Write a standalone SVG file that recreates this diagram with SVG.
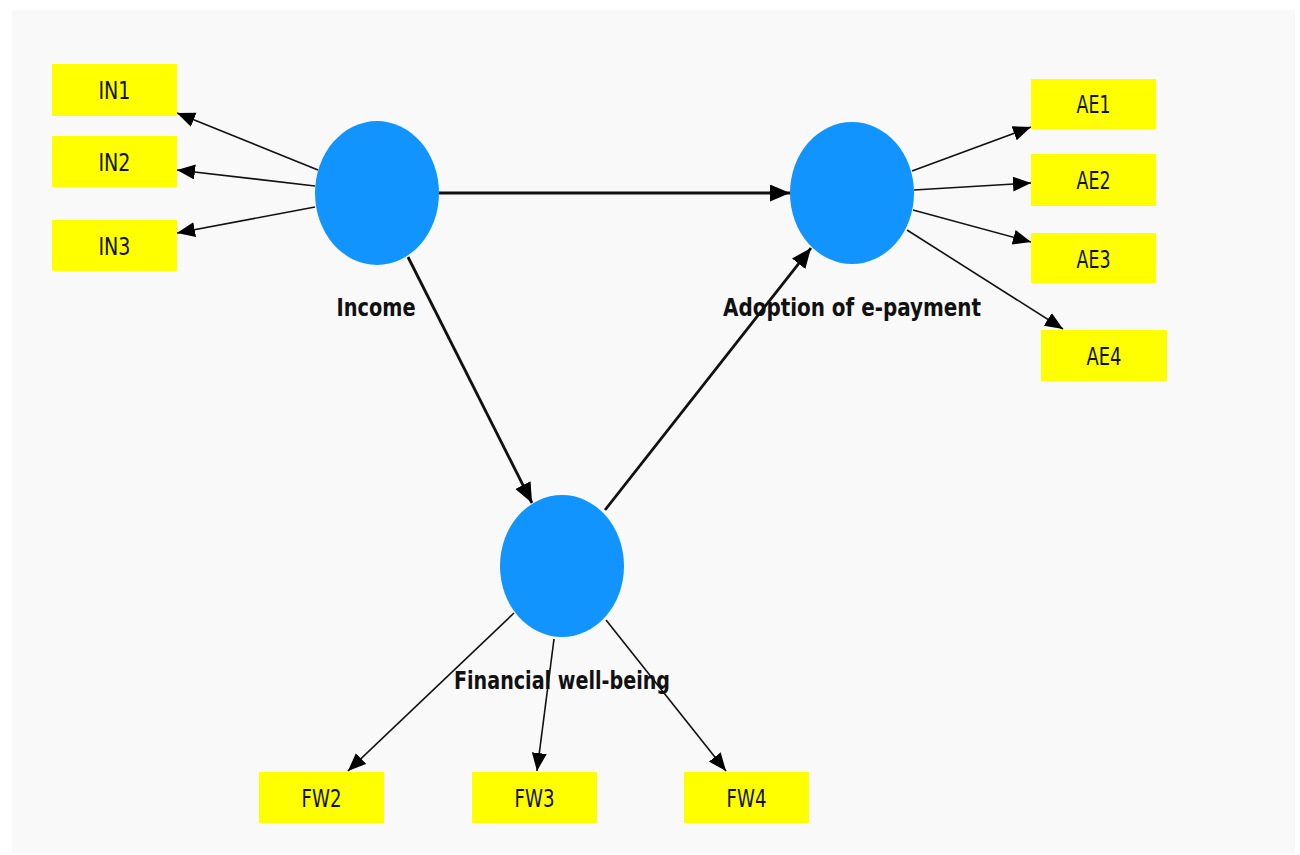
<svg xmlns="http://www.w3.org/2000/svg" width="1300" height="855" viewBox="0 0 1300 855">
<defs>
<style>
.box{fill:#ffff00}
.lv{fill:#1294ff}
.bt{font-family:"DejaVu Sans Condensed","DejaVu Sans",sans-serif;font-size:25px;fill:#111;text-anchor:middle}
.lt{font-family:"DejaVu Sans Condensed","DejaVu Sans",sans-serif;font-weight:bold;font-size:25px;fill:#111;text-anchor:middle}
.thin{stroke:#111;stroke-width:1.6;fill:none;marker-end:url(#ah)}
.thick{stroke:#111;stroke-width:2.8;fill:none;marker-end:url(#ahb)}
</style>
<marker id="ah" markerUnits="userSpaceOnUse" markerWidth="20" markerHeight="16" refX="18" refY="7.5" orient="auto">
<path d="M0,0 L18,7.5 L0,15 Z" fill="#000"/>
</marker>
<marker id="ahb" markerUnits="userSpaceOnUse" markerWidth="22" markerHeight="18" refX="20" refY="8.5" orient="auto">
<path d="M0,0 L20,8.5 L0,17 Z" fill="#000"/>
</marker>
</defs>
<rect x="0" y="0" width="1300" height="855" fill="#ffffff"/>
<rect x="12" y="10" width="1283" height="843" fill="#f9f9f9"/>
<g id="connectors">
<line class="thin" x1="318" y1="170" x2="177" y2="113"/>
<line class="thin" x1="315" y1="186" x2="177" y2="170"/>
<line class="thin" x1="315" y1="207" x2="177" y2="233"/>
<line class="thick" x1="438" y1="193" x2="790" y2="193"/>
<line class="thick" x1="408" y1="257" x2="532" y2="503"/>
<line class="thick" x1="605" y1="510" x2="811" y2="248"/>
<line class="thin" x1="912" y1="171" x2="1031" y2="127"/>
<line class="thin" x1="914" y1="190" x2="1031" y2="183"/>
<line class="thin" x1="913" y1="210" x2="1031" y2="242"/>
<line class="thin" x1="907" y1="230" x2="1063" y2="329"/>
<line class="thin" x1="514" y1="613" x2="348" y2="771"/>
<line class="thin" x1="554" y1="639" x2="537" y2="771"/>
<line class="thin" x1="606" y1="620" x2="726" y2="771"/>
</g>
<g id="income">
<ellipse class="lv" cx="377" cy="193" rx="62" ry="72"/>
<text class="lt" x="376" y="316" textLength="79" lengthAdjust="spacingAndGlyphs">Income</text>
</g>
<g id="adoption">
<ellipse class="lv" cx="852" cy="193" rx="62" ry="71"/>
<text class="lt" x="852" y="316" textLength="258" lengthAdjust="spacingAndGlyphs">Adoption of e-payment</text>
</g>
<g id="fwb">
<ellipse class="lv" cx="562" cy="566" rx="62" ry="71"/>
<text class="lt" x="562" y="689" textLength="216" lengthAdjust="spacingAndGlyphs">Financial well-being</text>
</g>
<g id="IN1"><rect class="box" x="52" y="64" width="125" height="52"/><text class="bt" x="114.5" y="99" textLength="32" lengthAdjust="spacingAndGlyphs">IN1</text></g>
<g id="IN2"><rect class="box" x="52" y="136" width="125" height="51"/><text class="bt" x="114.5" y="171" textLength="32" lengthAdjust="spacingAndGlyphs">IN2</text></g>
<g id="IN3"><rect class="box" x="52" y="220" width="125" height="51"/><text class="bt" x="114.5" y="255" textLength="32" lengthAdjust="spacingAndGlyphs">IN3</text></g>
<g id="AE1"><rect class="box" x="1031" y="79" width="125" height="50"/><text class="bt" x="1093.5" y="113" textLength="34" lengthAdjust="spacingAndGlyphs">AE1</text></g>
<g id="AE2"><rect class="box" x="1031" y="154" width="125" height="52"/><text class="bt" x="1093.5" y="189" textLength="34" lengthAdjust="spacingAndGlyphs">AE2</text></g>
<g id="AE3"><rect class="box" x="1031" y="233" width="125" height="50"/><text class="bt" x="1093.5" y="268" textLength="34" lengthAdjust="spacingAndGlyphs">AE3</text></g>
<g id="AE4"><rect class="box" x="1041" y="330" width="126" height="51"/><text class="bt" x="1104" y="365" textLength="35" lengthAdjust="spacingAndGlyphs">AE4</text></g>
<g id="FW2"><rect class="box" x="259" y="772" width="125" height="51"/><text class="bt" x="321.5" y="807" textLength="40" lengthAdjust="spacingAndGlyphs">FW2</text></g>
<g id="FW3"><rect class="box" x="472" y="772" width="125" height="51"/><text class="bt" x="534.5" y="807" textLength="40" lengthAdjust="spacingAndGlyphs">FW3</text></g>
<g id="FW4"><rect class="box" x="684" y="772" width="125" height="51"/><text class="bt" x="746.5" y="807" textLength="40" lengthAdjust="spacingAndGlyphs">FW4</text></g>
</svg>
